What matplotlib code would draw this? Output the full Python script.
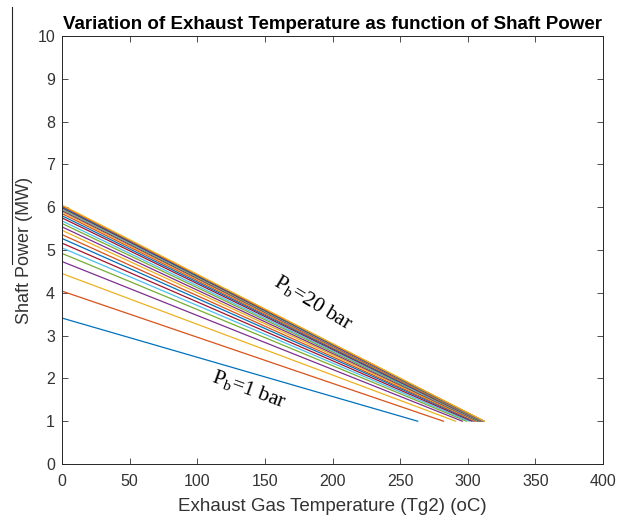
import matplotlib
matplotlib.use("Agg")
import matplotlib.pyplot as plt
from matplotlib.lines import Line2D
import numpy as np

# Data: one straight line per boost-pressure case
cases = list(range(1, 25))
power_at_zero = [3.41, 4.04, 4.45, 4.73, 4.92, 5.05, 5.16, 5.27, 5.36, 5.46,
                 5.54, 5.62, 5.68, 5.75, 5.80, 5.85, 5.89, 5.92, 5.95, 5.97,
                 5.99, 6.01, 6.03, 6.05]
temp_at_end = [263, 282, 291, 296, 299, 301, 303, 304.5, 305.5, 306.5,
               307.3, 308, 308.6, 309.2, 309.7, 310.1, 310.5, 310.8, 311.1, 311.4,
               311.6, 311.8, 312.0, 312.2]
power_at_end = [1.0] * 24

matlab_colors = ["#0072BD", "#D95319", "#EDB120", "#7E2F8E",
                 "#77AC30", "#4DBEEE", "#A2142F"]

plt.rcParams['font.family'] = ['Liberation Sans', 'DejaVu Sans']
plt.rcParams['mathtext.fontset'] = 'custom'
plt.rcParams['mathtext.rm'] = 'Liberation Serif'
plt.rcParams['mathtext.it'] = 'Liberation Serif:italic'

fig = plt.figure(figsize=(6.29, 5.20), dpi=100)
ax = fig.add_axes([62/629, 1-464/520, (603-62)/629, (464-36)/520])

for i, c in enumerate(cases):
    ax.plot([0, temp_at_end[i]], [power_at_zero[i], power_at_end[i]],
            color=matlab_colors[i % 7], lw=0.9)

ax.set_xlim(0, 400)
ax.set_ylim(0, 10)
ax.set_xticks(np.arange(0, 401, 50))
ax.set_yticks(np.arange(0, 11, 1))
ax.tick_params(direction='in', length=4, width=0.6, colors='#333333',
               labelsize=11.5, top=True, right=True, labeltop=False, labelright=False)
ax.tick_params(axis='x', pad=7)
ax.tick_params(axis='y', pad=5)
for lab in ax.get_xticklabels() + ax.get_yticklabels():
    lab.set_color('#333333')
for s in ax.spines.values():
    s.set_linewidth(0.7)
    s.set_color('#262626')

ax.set_xlabel('Exhaust Gas Temperature (Tg2) (oC)', fontsize=13.5, color='#333333', labelpad=7)
ax.set_ylabel('Shaft Power (MW)', fontsize=13, color='#333333', labelpad=3)
ax.set_title('Variation of Exhaust Temperature as function of Shaft Power',
             fontsize=13.5, fontweight='bold', pad=5)

ax.text(158, 4.3, r'P$_{\mathrm{b}}$=20 bar', family='Liberation Serif', fontsize=15.5,
        rotation=-31, rotation_mode='anchor', ha='left', va='center')
ax.text(111, 2.05, r'P$_{\mathrm{b}}$=1 bar', family='Liberation Serif', fontsize=15.5,
        rotation=-20, rotation_mode='anchor', ha='left', va='center')

fig.add_artist(Line2D([12/629, 12/629], [1-7/520, 1-264/520],
                      transform=fig.transFigure, color='#262626', lw=0.8))

fig.savefig('out.png', dpi=100)
